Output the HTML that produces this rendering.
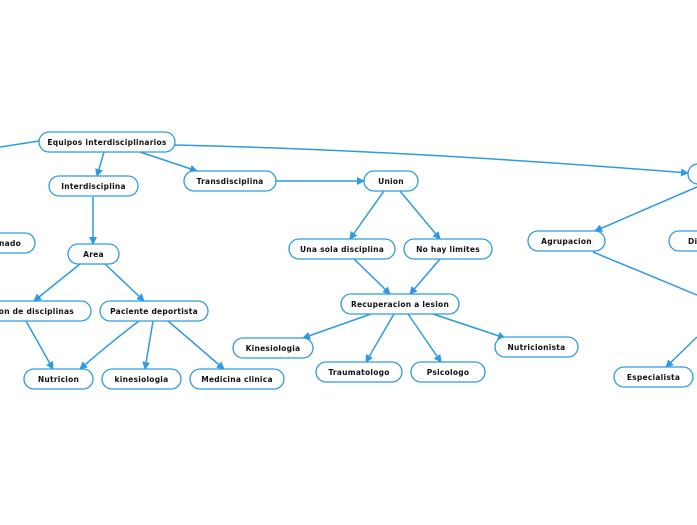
<!DOCTYPE html>
<html><head><style>
body{margin:0;background:#fff;width:697px;height:520px;overflow:hidden}
text{font-family:"DejaVu Sans","Liberation Sans",sans-serif;font-size:7.5px;font-weight:bold;fill:#111;text-anchor:middle;dominant-baseline:central;letter-spacing:0.25px}
.n{fill:#fff;stroke:#2e9be0;stroke-width:1.3}
.l{fill:none;stroke:#2e9be0;stroke-width:1.5}
</style></head><body>
<svg width="697" height="520" viewBox="0 0 697 520">
<defs><marker id="a" markerWidth="8" markerHeight="8" refX="7" refY="4" orient="auto" markerUnits="userSpaceOnUse"><path d="M0,0 L8,4 L0,8 z" fill="#2e9be0"/></marker></defs>
<g class="l">
<path d="M0,147 L39,141"/>
<path d="M175,145 Q400,150 688,173" marker-end="url(#a)"/>
<path d="M104,152 L97,176" marker-end="url(#a)"/>
<path d="M140,152 L197,171" marker-end="url(#a)"/>
<path d="M93,197 L93,244" marker-end="url(#a)"/>
<path d="M276,181 L364,181" marker-end="url(#a)"/>
<path d="M384,191 L350,239" marker-end="url(#a)"/>
<path d="M400,191 L440,239" marker-end="url(#a)"/>
<path d="M354,259 L390,294" marker-end="url(#a)"/>
<path d="M440,259 L410,294" marker-end="url(#a)"/>
<path d="M371,314 L303,338" marker-end="url(#a)"/>
<path d="M394,314 L366,362" marker-end="url(#a)"/>
<path d="M408,314 L441,362" marker-end="url(#a)"/>
<path d="M433,314 L505,338" marker-end="url(#a)"/>
<path d="M80,264 L34,301" marker-end="url(#a)"/>
<path d="M105,264 L144,301" marker-end="url(#a)"/>
<path d="M26,321 L53,369" marker-end="url(#a)"/>
<path d="M139,321 Q110,343 80,369" marker-end="url(#a)"/>
<path d="M153,321 L145,369" marker-end="url(#a)"/>
<path d="M168,321 L224,369" marker-end="url(#a)"/>
<path d="M697,187 L595,231" marker-end="url(#a)"/>
<path d="M593,252 L697,295"/>
<path d="M697,337 L666,367" marker-end="url(#a)"/>
</g>
<g>
<rect class="n" x="39" y="132" width="136" height="20" rx="10"/><text x="107" y="142.5">Equipos interdisciplinarios</text>
<rect class="n" x="49" y="176" width="89" height="20" rx="10"/><text x="93.5" y="186.5">Interdisciplina</text>
<rect class="n" x="184" y="171" width="92" height="20" rx="10"/><text x="230" y="181.5">Transdisciplina</text>
<rect class="n" x="364" y="171" width="54" height="20" rx="10"/><text x="391" y="181.5">Union</text>
<rect class="n" x="688" y="164" width="40" height="20" rx="10"/>
<rect class="n" x="-40" y="233" width="75" height="20" rx="10"/><text x="10" y="243.5">nado</text>
<rect class="n" x="-30" y="301" width="121" height="20" rx="10"/><text x="30" y="311.5">acion de disciplinas</text>
<rect class="n" x="68" y="244" width="51" height="20" rx="10"/><text x="93.5" y="254.5">Area</text>
<rect class="n" x="100" y="301" width="108" height="20" rx="10"/><text x="154" y="311.5">Paciente deportista</text>
<rect class="n" x="24" y="369" width="69" height="20" rx="10"/><text x="58.5" y="379.5">Nutricion</text>
<rect class="n" x="102" y="369" width="79" height="20" rx="10"/><text x="141.5" y="379.5">kinesiologia</text>
<rect class="n" x="190" y="369" width="94" height="20" rx="10"/><text x="237" y="379.5">Medicina clinica</text>
<rect class="n" x="289" y="239" width="106" height="20" rx="10"/><text x="342" y="249.5">Una sola disciplina</text>
<rect class="n" x="404" y="239" width="88" height="20" rx="10"/><text x="448" y="249.5">No hay limites</text>
<rect class="n" x="341" y="294" width="118" height="20" rx="10"/><text x="400" y="304.5">Recuperacion a lesion</text>
<rect class="n" x="233" y="338" width="80" height="20" rx="10"/><text x="273" y="348.5">Kinesiologia</text>
<rect class="n" x="316" y="362" width="86" height="20" rx="10"/><text x="359" y="372.5">Traumatologo</text>
<rect class="n" x="411" y="362" width="74" height="20" rx="10"/><text x="448" y="372.5">Psicologo</text>
<rect class="n" x="495" y="337" width="83" height="20" rx="10"/><text x="536.5" y="347.5">Nutricionista</text>
<rect class="n" x="528" y="231" width="77" height="20" rx="10"/><text x="566.5" y="241.5">Agrupacion</text>
<rect class="n" x="669" y="231" width="60" height="20" rx="10"/><text x="695" y="241.5">Dis</text>
<rect class="n" x="614" y="367" width="79" height="20" rx="10"/><text x="653.5" y="377.5">Especialista</text>
</g>
</svg>
</body></html>
